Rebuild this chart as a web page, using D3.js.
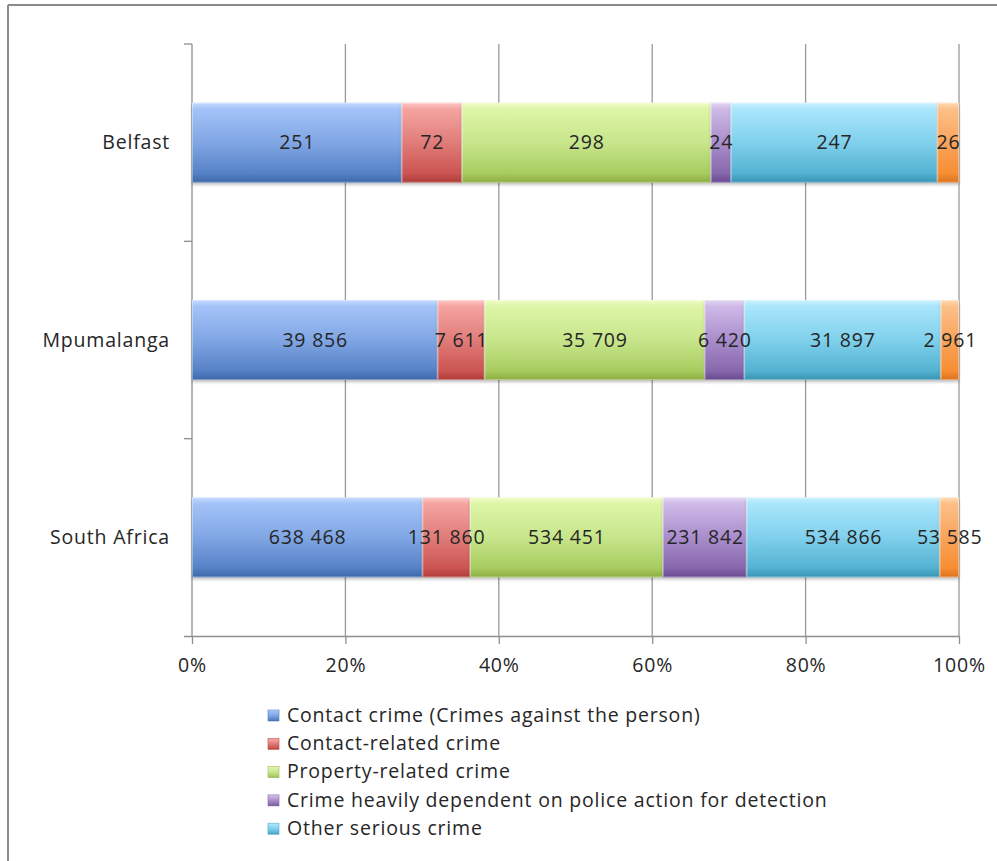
<!DOCTYPE html>
<html><head><meta charset="utf-8">
<script src="https://cdn.jsdelivr.net/npm/d3@7"></script>
<style>
body{margin:0;background:#fff}
svg{display:block}
text{font-family:'Open Sans',Lato,sans-serif;fill:#262626;letter-spacing:0.8px}
</style>
</head><body>
<svg id="chart" width="997" height="861"></svg>
<script>
// ---- data ----
const categories = ["Belfast", "Mpumalanga", "South Africa"];
const seriesNames = [
  "Contact crime (Crimes against the person)",
  "Contact-related crime",
  "Property-related crime",
  "Crime heavily dependent on police action for detection",
  "Other serious crime",
  "Subcategories of aggravated robbery"
];
const contactCrime    = [251, 39856, 638468];
const contactRelated  = [72, 7611, 131860];
const propertyRelated = [298, 35709, 534451];
const policeAction    = [24, 6420, 231842];
const otherSerious    = [247, 31897, 534866];
const aggravatedSub   = [26, 2961, 53585];
const tickValues = [0, 0.2, 0.4, 0.6, 0.8, 1];
const tickLabels = ["0%", "20%", "40%", "60%", "80%", "100%"];
const legendShown = 5; // the sixth entry is cut off in the original

const seriesValues = [contactCrime, contactRelated, propertyRelated, policeAction, otherSerious, aggravatedSub];
const gradStops = [
  ["#c6dbff","#a3c3f8","#80a6e4","#5682c6","#3b68a8"],
  ["#fcc8c6","#f5a4a1","#e07c79","#cc5552","#ae3b38"],
  ["#f0fcc8","#def5a8","#c7e68b","#a9cc60","#8cac40"],
  ["#e3d6f4","#cfbae7","#a98dcc","#8868ad","#684990"],
  ["#cdf2ff","#a9e6fb","#80d0ec","#53b3d1","#3794b2"],
  ["#ffdab4","#fdc088","#f9a45b","#f78e33","#dc711e"]
];
const legendColors = ["#4f81bd","#c0504d","#9bbb59","#8064a2","#4bacc6","#f79646"];
const FS = 19.5;

// ---- build ----
const svg = d3.select("#chart");
const defs = svg.append("defs");
gradStops.forEach((st, i) => {
  const g = defs.append("linearGradient").attr("id", "g" + i)
    .attr("x1", 0).attr("x2", 0).attr("y1", 0).attr("y2", 1);
  [0, 0.08, 0.5, 0.88, 1].forEach((o, k) => g.append("stop").attr("offset", o).attr("stop-color", st[k]));
});
const f = defs.append("filter").attr("id", "sh").attr("x", "-5%").attr("y", "-20%").attr("width", "110%").attr("height", "150%");
f.append("feDropShadow").attr("dx", 0).attr("dy", 2).attr("stdDeviation", 1.5).attr("flood-color", "#000").attr("flood-opacity", 0.25);

// outer frame
svg.append("line").attr("x1", 8).attr("x2", 997).attr("y1", 5).attr("y2", 5).attr("stroke", "#8a8a8a").attr("stroke-width", 2);
svg.append("line").attr("x1", 8).attr("x2", 8).attr("y1", 5).attr("y2", 861).attr("stroke", "#8a8a8a").attr("stroke-width", 2);

const x = d3.scaleLinear().domain([0, 1]).range([192, 959]);
const y = d3.scaleBand().domain(categories).range([44, 636]).paddingInner(0.5945).paddingOuter(0.5945 / 2);

// gridlines
svg.append("g").selectAll("line").data(tickValues.slice(1)).join("line")
  .attr("x1", d => x(d)).attr("x2", d => x(d)).attr("y1", 44).attr("y2", 636)
  .attr("stroke", "#9a9a9a").attr("stroke-width", 1.3);

// x axis
const xAxis = svg.append("g").attr("transform", "translate(0,636)")
  .call(d3.axisBottom(x).tickValues(tickValues).tickFormat((d, i) => tickLabels[i]).tickSize(8).tickSizeOuter(0).tickPadding(14));
xAxis.select(".domain").attr("stroke", "#8f8f8f").attr("stroke-width", 1.3).attr("d", "M184,0.5H959");
xAxis.selectAll(".tick line").attr("stroke", "#8f8f8f").attr("stroke-width", 1.3);
xAxis.selectAll("text").attr("font-size", FS).attr("fill", "#333").style("font-family", "'Open Sans',Lato,sans-serif");

// y axis line with boundary ticks
svg.append("line").attr("x1", 192).attr("x2", 192).attr("y1", 44).attr("y2", 636).attr("stroke", "#8f8f8f").attr("stroke-width", 1.3);
const bounds = categories.map(c => y(c) - y.step() * y.paddingInner() / 2);
svg.append("g").selectAll("line").data(bounds).join("line")
  .attr("x1", 184).attr("x2", 192).attr("y1", d => d).attr("y2", d => d)
  .attr("stroke", "#8f8f8f").attr("stroke-width", 1.3);
svg.append("g").selectAll("text").data(categories).join("text")
  .attr("x", 170).attr("y", d => y(d) + y.bandwidth() / 2).attr("dy", "0.35em")
  .attr("text-anchor", "end").attr("font-size", FS).attr("fill", "#333").text(d => d);

// stacked data
const rows = categories.map((c, i) => {
  const r = { cat: c };
  seriesValues.forEach((s, k) => r["s" + k] = s[i]);
  r.total = d3.sum(seriesValues, s => s[i]);
  return r;
});
const keys = seriesValues.map((s, k) => "s" + k);
const stack = d3.stack().keys(keys).value((d, k) => d[k] / d.total);
const layers = stack(rows);
const fmt = d3.formatLocale({ decimal: ".", thousands: " ", grouping: [3], currency: ["", ""] }).format(",");

const barG = svg.append("g");
layers.forEach((layer, k) => {
  barG.append("g").attr("filter", "url(#sh)").selectAll("rect").data(layer).join("rect")
    .attr("x", d => x(d[0])).attr("width", d => x(d[1]) - x(d[0]))
    .attr("y", d => y(d.data.cat)).attr("height", y.bandwidth())
    .attr("fill", "url(#g" + k + ")");
});
// bevel highlights
layers.forEach((layer, k) => {
  barG.append("g").selectAll("rect").data(layer).join("rect")
    .attr("x", d => x(d[0]) + 0.5).attr("width", d => Math.max(0, x(d[1]) - x(d[0]) - 1))
    .attr("y", d => y(d.data.cat) + 0.5).attr("height", y.bandwidth() - 1)
    .attr("fill", "none").attr("stroke", "rgba(255,255,255,0.35)").attr("stroke-width", 1);
});
// labels
layers.forEach((layer, k) => {
  barG.append("g").selectAll("text").data(layer).join("text")
    .attr("x", d => (x(d[0]) + x(d[1])) / 2 + 0.4).attr("y", d => y(d.data.cat) + y.bandwidth() / 2).attr("dy", "0.35em")
    .attr("text-anchor", "middle").attr("font-size", FS).attr("fill", "#222")
    .text(d => fmt(d.data["s" + k]));
});

// legend
const leg = svg.append("g");
seriesNames.slice(0, legendShown).forEach((name, i) => {
  const yy = 715 + i * 28.3;
  leg.append("rect").attr("x", 268).attr("y", yy - 5).attr("width", 11).attr("height", 11)
    .attr("fill", "url(#g" + i + ")").attr("stroke", legendColors[i]).attr("stroke-width", 0.6);
  leg.append("text").attr("x", 287).attr("y", yy).attr("dy", "0.35em").attr("font-size", FS).attr("fill", "#333").text(name);
});
</script>
</body></html>
